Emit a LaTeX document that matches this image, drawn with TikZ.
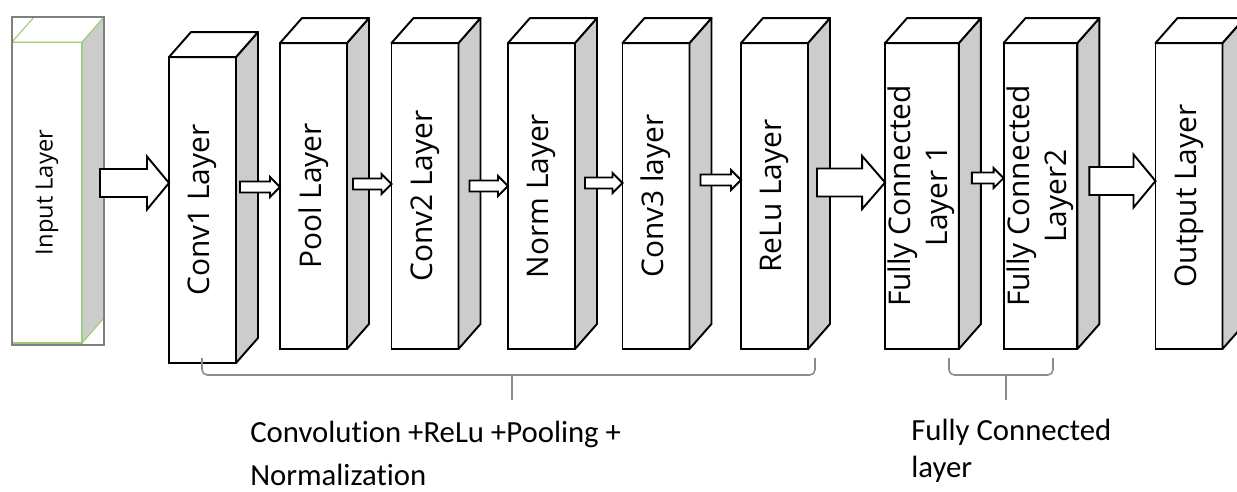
\documentclass[tikz,border=0pt]{standalone}
\usepackage{fontspec}
\setmainfont{Open Sans}
\newfontfamily\notefont[Ligatures=NoCommon]{Carlito}
\usetikzlibrary{calc}

\definecolor{sidegray}{RGB}{204,204,204}
\definecolor{framegray}{RGB}{128,128,128}
\definecolor{bracegray}{RGB}{140,140,140}
\definecolor{inputgreen}{RGB}{150,205,115}

\tikzset{
  layer/.style={draw, line width=1.1pt, fill=white, inner sep=0pt, outer sep=0pt,
    minimum width=1.34cm, minimum height=6.12cm, font=\fontsize{17}{21}\selectfont},
  inputlayer/.style={layer, draw=inputgreen, line width=0.6pt,
    minimum width=1.4cm, minimum height=6.02cm, font=\fontsize{13.5}{16}\selectfont},
  side/.style={draw, fill=sidegray, line width=1.1pt, line join=round},
  blockarrow/.style={draw, fill=white, line width=1.1pt},
  brace/.style={draw=bracegray, line width=0.9pt, rounded corners=3pt},
  note/.style={align=left, inner sep=0pt}
}

% side and top face behind a layer node
\newcommand{\layerdepth}[2][]{%
  \draw[side,#1] (#2.north east) -- ++(22,-25) -- ($(#2.south east)+(22,-25)$)
    -- (#2.south east) -- cycle;
  \draw[side,fill=white,#1] (#2.north west) -- ++(22,-25) -- ($(#2.north east)+(22,-25)$)
    -- (#2.north east) -- cycle;
}

% hollow arrow: from, to, row, gap, half body, half head, head length
\newcommand{\layerarrow}[7]{%
  \coordinate (row) at (0,#3);
  \draw[blockarrow] ($(#1.east |- row)+(#4,-#5)$)
    -- ($(#2.west |- row)+(-#7,-#5)$) -- ($(#2.west |- row)+(-#7,-#6)$)
    -- (#2.west |- row)
    -- ($(#2.west |- row)+(-#7,#6)$) -- ($(#2.west |- row)+(-#7,#5)$)
    -- ($(#1.east |- row)+(#4,#5)$) -- cycle;
}

\begin{document}
\begin{tikzpicture}[x=0.02cm, y=-0.02cm]
\useasboundingbox (0,0) rectangle (1237,491);
\clip (0,0) rectangle (1237,491);

% input block with its selection frame
\node[inputlayer] (input) at (47,192.5) {\rotatebox{90}{Input Layer}};
\layerdepth[draw=inputgreen, line width=0.6pt]{input}
\draw[framegray, line width=1pt] ($(input.south west)+(0,2)$)
  rectangle ($(input.north east)+(22,-25)$);

% hidden layers
\node[layer] (conv1) at (202.5,210) {\rotatebox{90}{Conv1 Layer}};
\layerdepth{conv1}
\foreach \x/\nm/\txt in {313.5/pool/Pool Layer, 425/conv2/Conv2 Layer,
    541.5/norm/Norm Layer, 656/conv3/Conv3 layer, 774.5/relu/ReLu Layer,
    1189/output/Output Layer} {
  \node[layer] (\nm) at (\x,196) {\rotatebox{90}{\txt}};
  \layerdepth{\nm}
}
\node[layer] (fc1) at (922,196)
  {\rotatebox{90}{\begin{tabular}{@{}c@{}}Fully Connected\\Layer 1\end{tabular}}};
\layerdepth{fc1}
\node[layer] (fc2) at (1040.5,196)
  {\rotatebox{90}{\begin{tabular}{@{}c@{}}Fully Connected\\Layer2\end{tabular}}};
\layerdepth{fc2}

% arrows between layers
\layerarrow{input}{conv1}{183}{18}{14}{26.5}{22}
\layerarrow{relu}{fc1}{182.5}{9}{14}{26.5}{23}
\layerarrow{fc2}{output}{181}{12}{14}{26.5}{22}
\foreach \a/\b/\y/\g in {conv1/pool/187/4, pool/conv2/184/6, conv2/norm/186/11,
    norm/conv3/183/10, conv3/relu/180/11, fc1/fc2/178/13}
  \layerarrow{\a}{\b}{\y}{\g}{5.5}{10}{10};

% group brackets
\draw[brace] (202,358) |- (815,375) -- (815,358);
\draw[brace] (512,375) -- (512,400);
\draw[brace] (949,358) |- (1053,375) -- (1053,358);
\draw[brace] (1006,375) -- (1006,400);

\node[note, anchor=base west, font=\notefont\fontsize{17.5}{24}\selectfont] (convnote)
  at (250,485) {Convolution +ReLu +Pooling +\\Normalization};
\node[note, anchor=base west, font=\notefont\fontsize{17.5}{21}\selectfont] (fcnote)
  at (911,477) {Fully Connected\\layer};
\end{tikzpicture}
\end{document}
